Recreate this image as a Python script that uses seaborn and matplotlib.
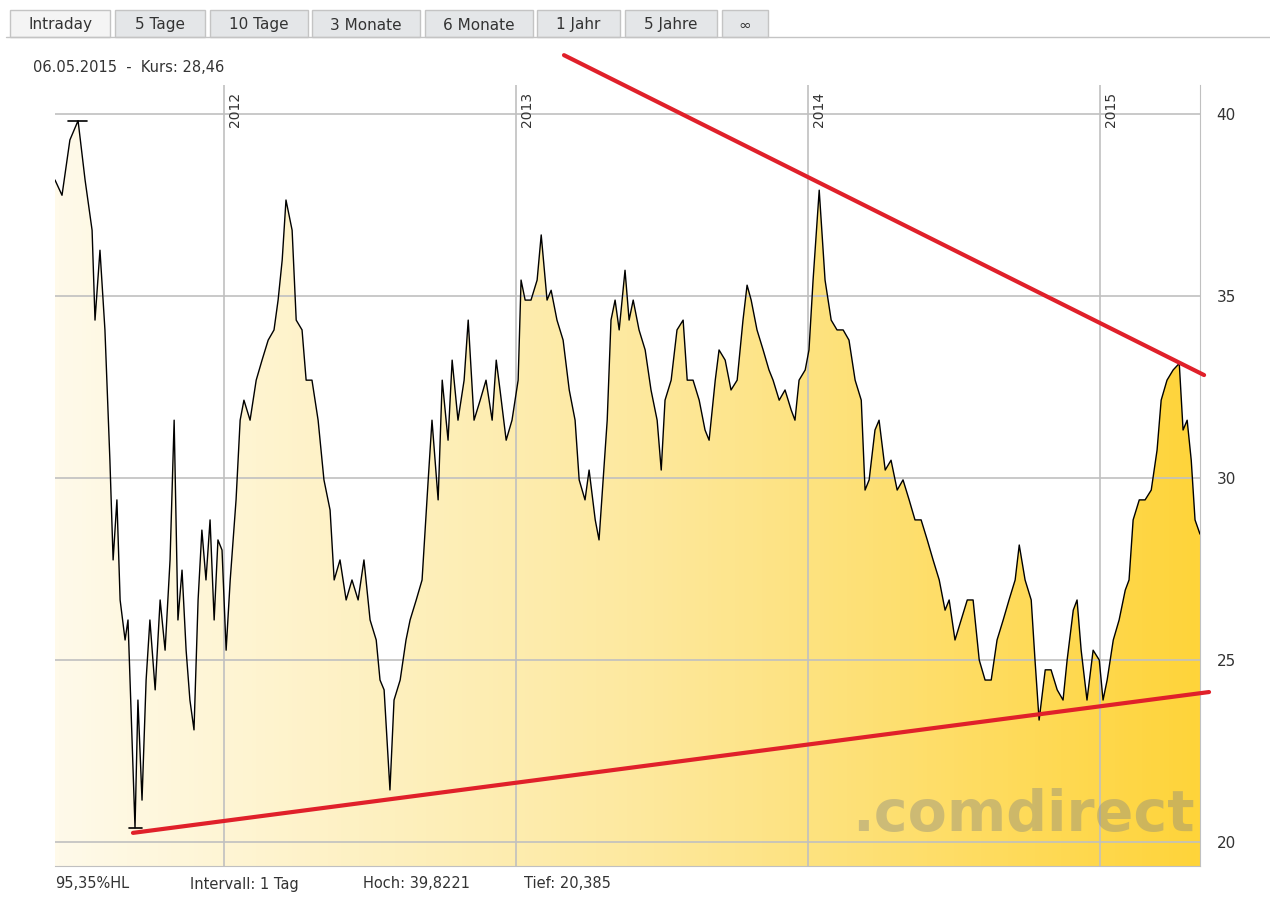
import numpy as np
import pandas as pd
import seaborn as sns
import matplotlib.pyplot as plt
from matplotlib.colors import LinearSegmentedColormap
from matplotlib.patches import Rectangle

# price readings (decimal year, price)
years = [
    2011.421, 2011.445, 2011.472, 2011.500, 2011.524, 2011.548, 2011.558, 2011.575, 2011.592, 2011.609,
    2011.620, 2011.633, 2011.644, 2011.661, 2011.671, 2011.685, 2011.695, 2011.705, 2011.719, 2011.733,
    2011.746, 2011.764, 2011.781, 2011.798, 2011.815, 2011.829, 2011.842, 2011.856, 2011.870, 2011.883,
    2011.897, 2011.911, 2011.924, 2011.938, 2011.952, 2011.966, 2011.979, 2011.993, 2012.007, 2012.021,
    2012.041, 2012.055, 2012.068, 2012.089, 2012.110, 2012.130, 2012.151, 2012.171, 2012.185, 2012.199,
    2012.212, 2012.233, 2012.247, 2012.267, 2012.281, 2012.301, 2012.322, 2012.342, 2012.363, 2012.377,
    2012.397, 2012.418, 2012.438, 2012.459, 2012.479, 2012.500, 2012.521, 2012.534, 2012.548, 2012.568,
    2012.582, 2012.603, 2012.623, 2012.637, 2012.658, 2012.678, 2012.699, 2012.712, 2012.733, 2012.747,
    2012.767, 2012.781, 2012.801, 2012.822, 2012.836, 2012.856, 2012.877, 2012.897, 2012.918, 2012.932,
    2012.945, 2012.966, 2012.986, 2013.007, 2013.017, 2013.031, 2013.051, 2013.072, 2013.086, 2013.106,
    2013.120, 2013.140, 2013.161, 2013.182, 2013.202, 2013.216, 2013.236, 2013.250, 2013.271, 2013.284,
    2013.298, 2013.312, 2013.325, 2013.339, 2013.353, 2013.373, 2013.387, 2013.401, 2013.421, 2013.442,
    2013.462, 2013.483, 2013.497, 2013.510, 2013.531, 2013.551, 2013.572, 2013.586, 2013.606, 2013.627,
    2013.647, 2013.661, 2013.682, 2013.695, 2013.716, 2013.736, 2013.757, 2013.777, 2013.791, 2013.805,
    2013.825, 2013.846, 2013.866, 2013.880, 2013.901, 2013.921, 2013.942, 2013.955, 2013.969, 2013.990,
    2014.003, 2014.017, 2014.038, 2014.058, 2014.079, 2014.099, 2014.120, 2014.140, 2014.161, 2014.182,
    2014.195, 2014.209, 2014.229, 2014.243, 2014.264, 2014.284, 2014.305, 2014.325, 2014.346, 2014.366,
    2014.387, 2014.408, 2014.428, 2014.449, 2014.469, 2014.483, 2014.503, 2014.524, 2014.545, 2014.565,
    2014.586, 2014.606, 2014.627, 2014.647, 2014.668, 2014.688, 2014.709, 2014.723, 2014.743, 2014.764,
    2014.777, 2014.791, 2014.812, 2014.832, 2014.853, 2014.873, 2014.887, 2014.908, 2014.921, 2014.935,
    2014.955, 2014.976, 2014.997, 2015.010, 2015.024, 2015.045, 2015.065, 2015.086, 2015.099, 2015.113,
    2015.134, 2015.154, 2015.175, 2015.195, 2015.209, 2015.229, 2015.250, 2015.271, 2015.284, 2015.298,
    2015.312, 2015.325, 2015.342,
]
prices = [
    38.19, 37.77, 39.29, 39.82, 38.19, 36.81, 34.34, 36.26, 34.07, 30.49,
    27.75, 29.40, 26.65, 25.55, 26.10, 22.80, 20.39, 23.90, 21.15, 24.45,
    26.10, 24.18, 26.65, 25.27, 27.75, 31.59, 26.10, 27.47, 25.27, 23.90,
    23.08, 26.65, 28.57, 27.20, 28.85, 26.10, 28.30, 28.02, 25.27, 27.20,
    29.40, 31.59, 32.14, 31.59, 32.69, 33.24, 33.79, 34.07, 34.89, 35.99,
    37.64, 36.81, 34.34, 34.07, 32.69, 32.69, 31.59, 29.95, 29.12, 27.20,
    27.75, 26.65, 27.20, 26.65, 27.75, 26.10, 25.55, 24.45, 24.18, 21.43,
    23.90, 24.45, 25.55, 26.10, 26.65, 27.20, 29.95, 31.59, 29.40, 32.69,
    31.04, 33.24, 31.59, 32.69, 34.34, 31.59, 32.14, 32.69, 31.59, 33.24,
    32.42, 31.04, 31.59, 32.69, 35.44, 34.89, 34.89, 35.44, 36.68, 34.89,
    35.16, 34.34, 33.79, 32.42, 31.59, 29.95, 29.40, 30.22, 28.85, 28.30,
    29.95, 31.59, 34.34, 34.89, 34.07, 35.71, 34.34, 34.89, 34.07, 33.52,
    32.42, 31.59, 30.22, 32.14, 32.69, 34.07, 34.34, 32.69, 32.69, 32.14,
    31.32, 31.04, 32.69, 33.52, 33.24, 32.42, 32.69, 34.34, 35.30, 34.89,
    34.07, 33.52, 32.97, 32.69, 32.14, 32.42, 31.87, 31.59, 32.69, 32.97,
    33.52, 35.44, 37.91, 35.44, 34.34, 34.07, 34.07, 33.79, 32.69, 32.14,
    29.67, 29.95, 31.32, 31.59, 30.22, 30.49, 29.67, 29.95, 29.40, 28.85,
    28.85, 28.30, 27.75, 27.20, 26.37, 26.65, 25.55, 26.10, 26.65, 26.65,
    25.00, 24.45, 24.45, 25.55, 26.10, 26.65, 27.20, 28.16, 27.20, 26.65,
    25.00, 23.35, 24.73, 24.73, 24.18, 23.90, 25.00, 26.37, 26.65, 25.27,
    23.90, 25.27, 25.00, 23.90, 24.45, 25.55, 26.10, 26.92, 27.20, 28.85,
    29.40, 29.40, 29.67, 30.77, 32.14, 32.69, 32.97, 33.15, 31.32, 31.59,
    30.49, 28.85, 28.46,
]
year_ticks = [2012, 2013, 2014, 2015]
price_ticks = [20, 25, 30, 35, 40]
tabs = ["Intraday", "5 Tage", "10 Tage", "3 Monate", "6 Monate", "1 Jahr", "5 Jahre", "∞"]
tab_x = [(10, 110), (115, 205), (210, 308), (312, 420), (425, 533), (537, 620), (625, 717), (722, 768)]
upper_trend = ([2013.164, 2015.356], [41.62, 32.83])
lower_trend = ([2011.688, 2015.373], [20.25, 24.12])

df = pd.DataFrame({"year": years, "price": prices})

sns.set_style("white")
plt.rcParams['font.family'] = ['DejaVu Sans']
W, H = 1270, 918
fig = plt.figure(figsize=(W / 100, H / 100), dpi=100)
ax = fig.add_axes([55 / W, 1 - 866 / H, 1145 / W, 781 / H])
x0, x1 = 2011.421, 2015.342
y0, y1 = 19.34, 40.8
ax.set_xlim(x0, x1)
ax.set_ylim(y0, y1)

# gradient fill under the curve
cmap = LinearSegmentedColormap.from_list("g", ["#fffaea", "#fde9a0", "#ffd43a"])
grad = np.linspace(0, 1, 256).reshape(1, -1)
im = ax.imshow(grad, extent=[x0, x1, y0, y1], aspect="auto", cmap=cmap, zorder=1)
poly = ax.fill_between(df["year"], df["price"], y0, color="none", zorder=1)
im.set_clip_path(poly.get_paths()[0], transform=ax.transData)

for t in year_ticks:
    ax.axvline(t, color="#c0c0c0", lw=1.2, zorder=2)
    ax.text(t + 0.012, 40.6, str(t), rotation=90, va="top", ha="left", fontsize=10, color="#333333", zorder=3)
for p in price_ticks:
    ax.axhline(p, color="#c0c0c0", lw=1.2, zorder=2)

sns.lineplot(data=df, x="year", y="price", color="black", lw=1.0, ax=ax, zorder=4)

# high / low markers
ax.plot([2011.465, 2011.530], [39.82, 39.82], color="black", lw=1.2, zorder=4)
ax.plot([2011.675, 2011.720], [20.39, 20.39], color="black", lw=1.2, zorder=4)

ax.plot(*upper_trend, color="#e0202a", lw=3, zorder=6, clip_on=False)
ax.plot(*lower_trend, color="#e0202a", lw=3, zorder=6, clip_on=False)

ax.text(0.995, 0.03, ".comdirect", transform=ax.transAxes, ha="right", va="bottom",
        fontsize=41, fontweight="bold", color="#8a8a80", alpha=0.42, zorder=5)

ax.yaxis.tick_right()
ax.set_yticks(price_ticks)
ax.set_xticks([])
ax.tick_params(axis="y", length=0, labelsize=11, pad=12, labelcolor="#333333")
ax.set_xlabel("")
ax.set_ylabel("")
for side in ["top", "left"]:
    ax.spines[side].set_visible(False)
for side in ["right", "bottom"]:
    ax.spines[side].set_color("#c0c0c0")

# tabs
for label, (a, b) in zip(tabs, tab_x):
    fc = "#f4f4f4" if label == "Intraday" else "#e4e6e8"
    fig.patches.append(Rectangle((a / W, 1 - 37 / H), (b - a) / W, 27 / H, transform=fig.transFigure,
                                 facecolor=fc, edgecolor="#c4c4c4", lw=1))
    fig.text((a + b) / 2 / W, 1 - 25 / H, label, ha="center", va="center", fontsize=11, color="#333333")
fig.lines.append(plt.Line2D([0.005, 1], [1 - 37 / H] * 2, transform=fig.transFigure, color="#c4c4c4", lw=1))

fig.text(33 / W, 1 - 68 / H, "06.05.2015  -  Kurs: 28,46", fontsize=10.5, va="center", color="#333333")
for txt, xp in [("95,35%HL", 55), ("Intervall: 1 Tag", 190), ("Hoch: 39,8221", 363), ("Tief: 20,385", 524)]:
    fig.text(xp / W, 1 - 884 / H, txt, fontsize=10.5, va="center", color="#333333")

fig.savefig("out.png", dpi=100)
